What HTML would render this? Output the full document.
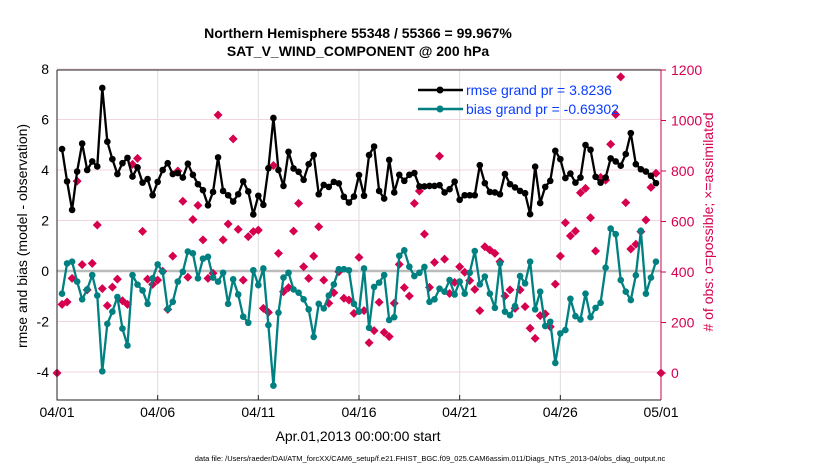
<!DOCTYPE html>
<html><head><meta charset="utf-8"><style>
body{margin:0;background:#fff;width:830px;height:470px;overflow:hidden}
text{font-family:"Liberation Sans",sans-serif}
</style></head><body>
<svg id="chart" width="830" height="470" xmlns="http://www.w3.org/2000/svg">
<g id="grid"></g>
<g id="marks"></g>
<g id="axes"></g>
<text x="358" y="38" text-anchor="middle" font-size="14" font-weight="bold">Northern Hemisphere 55348 / 55366 = 99.967%</text>
<text x="358" y="56" text-anchor="middle" font-size="14" font-weight="bold">SAT_V_WIND_COMPONENT @ 200 hPa</text>
<text transform="translate(27,236) rotate(-90)" text-anchor="middle" font-size="14">rmse and bias (model - observation)</text>
<text transform="translate(713,222) rotate(-90)" text-anchor="middle" font-size="14" fill="#d6004f"># of obs: o=possible; ×=assimilated</text>
<text x="358" y="441" text-anchor="middle" font-size="14">Apr.01,2013 00:00:00 start</text>
<text x="430" y="461" text-anchor="middle" font-size="7.5">data file: /Users/raeder/DAI/ATM_forcXX/CAM6_setup/f.e21.FHIST_BGC.f09_025.CAM6assim.011/Diags_NTrS_2013-04/obs_diag_output.nc</text>
<g>
<line x1="418" y1="90" x2="463" y2="90" stroke="#000" stroke-width="2.5"/><circle cx="440" cy="90" r="3.5" fill="#000"/>
<text x="466" y="95" font-size="14" fill="#0a3cff">rmse grand pr = 3.8236</text>
<line x1="418" y1="109" x2="463" y2="109" stroke="#008080" stroke-width="2.5"/><circle cx="440" cy="109" r="3.5" fill="#008080"/>
<text x="466" y="114" font-size="14" fill="#0a3cff">bias grand pr = -0.69302</text>
</g>
</svg>
<script>
const xTickLabels=["04/01","04/06","04/11","04/16","04/21","04/26","05/01"];
const xTickDays=[0,5,10,15,20,25,30];
const yLeftTicks=[-4,-2,0,2,4,6,8];
const yRightTicks=[0,200,400,600,800,1000,1200];
const rmse=[4.83,3.55,2.42,3.94,5.05,4.0,4.34,4.14,7.25,5.12,4.43,3.84,4.27,4.48,3.74,4.1,3.5,3.64,3.0,3.53,4.0,4.27,3.84,3.88,3.7,4.25,3.81,3.44,3.2,2.6,
3.13,4.5,3.17,3.0,2.75,3.04,3.55,3.15,2.24,2.98,2.62,4.07,6.06,4.0,3.37,4.72,4.06,3.93,3.61,4.23,4.59,3.04,3.41,3.33,3.53,3.47,2.94,2.71,2.95,3.8,
2.98,4.59,4.93,3.17,2.87,4.4,3.11,3.81,3.57,3.81,3.88,3.35,3.35,3.37,3.37,3.4,3.11,3.24,3.54,2.82,3.0,3.0,3.0,4.19,3.48,3.13,3.11,3.04,3.84,3.44,
3.31,3.17,3.08,2.25,4.13,2.69,3.33,3.57,4.76,4.43,3.68,3.86,3.5,3.7,4.99,4.8,3.73,3.5,3.7,4.46,4.34,4.17,4.63,5.46,4.23,4.03,3.94,3.77,3.48];
const bias=[-0.9,0.3,0.37,-0.42,-1.12,-0.73,-0.16,-0.97,-3.97,-2.09,-1.61,-1.03,-2.28,-2.95,-0.16,-0.54,-0.77,-1.3,-0.29,0.26,-0.03,-1.51,-1.22,-0.42,-0.03,0.77,0.7,-0.29,0.49,0.56,
-0.26,-0.42,-0.07,-1.3,-0.33,-0.93,-1.81,-2.05,0.03,-0.56,0.1,-2.14,-4.54,-1.65,-0.26,-0.07,-0.73,-0.86,-1.12,-1.52,-2.61,-1.3,-1.48,-0.97,-0.53,0.07,0.07,0.03,-1.3,-1.61,
0.1,-2.25,-0.63,-0.46,-0.16,-1.94,-1.83,0.6,0.82,0.17,-0.2,-0.07,0.16,-1.22,-1.12,-0.7,-0.82,-0.36,-0.93,-0.42,-0.9,-0.07,0.79,-0.53,-0.22,-0.9,-1.46,0.3,-1.61,-1.75,
-1.39,-0.2,-0.49,0.37,-1.52,-0.82,-2.18,-2.01,-3.64,-2.47,-2.34,-1.1,-1.79,-1.92,-0.9,-1.83,-1.46,-1.26,0.13,1.68,1.46,-0.36,-0.82,-1.15,-0.17,1.59,-0.9,-0.26,0.37];
const obsCount=[0,272,281,375,760,429,329,434,586,334,267,340,372,286,272,826,850,561,372,351,368,403,252,463,800,680,379,608,664,527,375,
395,1022,527,590,927,569,368,540,560,566,256,240,822,474,322,338,562,672,421,375,463,579,368,276,318,401,296,289,236,458,
247,120,168,280,161,144,276,430,338,305,672,721,550,339,438,859,451,315,359,421,399,366,331,247,500,487,474,441,305,329,
256,329,263,177,137,227,234,183,352,463,595,543,562,714,731,615,483,775,764,906,1024,1173,675,491,510,560,606,735,791,0];
const NS="http://www.w3.org/2000/svg";
const L=57,R=661,T=70,B=400;
const xs=d=>L+(R-L)*d/30;
const yl=v=>271-v*25.25;
const yr=c=>373-c*0.2525;
function el(tag,attrs,parent){const e=document.createElementNS(NS,tag);for(const k in attrs)e.setAttribute(k,attrs[k]);parent.appendChild(e);return e;}
const grid=document.getElementById('grid'),marks=document.getElementById('marks'),axes=document.getElementById('axes');
yLeftTicks.forEach(v=>{const g=el('line',{x1:L,x2:R,y1:yl(v),y2:yl(v),stroke:v===0?'#bbb':'#f0d4de','stroke-width':v===0?2.5:1},grid);


const t=el('text',{x:L-8,y:yl(v)+5,'text-anchor':'end','font-size':14},axes);t.textContent=v;

});
yRightTicks.forEach(c=>{el('line',{x1:R,x2:R+5,y1:yr(c),y2:yr(c),stroke:'#d6004f'},axes);
const t=el('text',{x:R+10,y:yr(c)+5,'font-size':14,fill:'#d6004f'},axes);t.textContent=c;

});
xTickDays.forEach((d,i)=>{const g=el('line',{x1:xs(d),x2:xs(d),y1:T,y2:B,stroke:'#ddd'},grid);


el('line',{x1:xs(d),x2:xs(d),y1:B,y2:B-5,stroke:'#222'},axes);
const t=el('text',{x:xs(d),y:417,'text-anchor':'middle','font-size':14},axes);t.textContent=xTickLabels[i];

});
el('path',{d:`M${L},${T}V${B}H${R}`,fill:'none',stroke:'#222'},axes);
el('line',{x1:L,x2:R,y1:T,y2:T,stroke:'#222'},axes);
el('line',{x1:R,x2:R,y1:T,y2:B,stroke:'#d6004f'},axes);
obsCount.forEach((c,i)=>{const x=xs(i*0.25),y=yr(c);
const p=el('path',{d:`M${x},${y-4.5}L${x+4.5},${y}L${x},${y+4.5}L${x-4.5},${y}Z`,fill:'#d6004f'},marks);

});
function series(vals,color,name){
const pts=vals.map((v,i)=>[xs(0.25*(i+1)),yl(v)]);
const pl=el('polyline',{points:pts.map(p=>p.join(',')).join(' '),fill:'none',stroke:color,'stroke-width':2.3,'stroke-linejoin':'round'},marks);


pts.forEach(p=>{const c=el('circle',{cx:p[0],cy:p[1],r:3.3,fill:color},marks);

});}
series(rmse,'#000','rmse');
series(bias,'#008080','bias');
</script>
</body></html>
